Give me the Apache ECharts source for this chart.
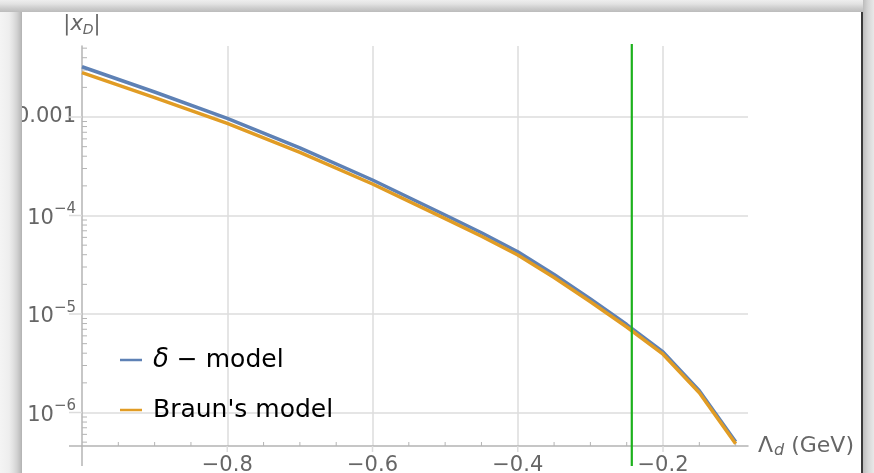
<!DOCTYPE html>
<html><head><meta charset="utf-8">
<script src="https://cdn.jsdelivr.net/npm/echarts@6/dist/echarts.min.js"></script>
<style>
html,body{margin:0;padding:0;background:#fff;overflow:hidden;}
#c{position:absolute;left:0;top:0;width:874px;height:473px;}
.f{position:absolute;pointer-events:none;}
</style></head><body>
<div id="c"></div>
<div class="f" style="left:0;top:0;width:22px;height:473px;background:linear-gradient(to right,#f4f4f4 0px,#eeeeee 9px,#e2e2e2 13px,#d2d2d2 17px,#bababa 21px,#b0b0b0 22px)"></div>
<div class="f" style="left:0;top:0;width:874px;height:12px;background:linear-gradient(to bottom,#eeeeee 0px,#e2e2e2 4px,#cdcdcd 8px,#bcbcbc 12px)"></div>
<div class="f" style="left:861px;top:12px;width:2px;height:461px;background:#3a3a3a"></div>
<div class="f" style="left:863px;top:0;width:11px;height:473px;background:linear-gradient(to right,#bcbcbc 0px,#d6d6d6 5px,#e8e8e8 11px)"></div>
<script>
// ---- data ----
const lambdaValues = [-1.0, -0.9, -0.8, -0.7, -0.6, -0.5, -0.45, -0.4, -0.35, -0.3, -0.25, -0.2, -0.15, -0.1];
const deltaModel   = [3.240e-3, 1.794e-3, 9.70e-4, 4.867e-4, 2.293e-4, 1.012e-4, 6.675e-5, 4.29e-5, 2.518e-5, 1.420e-5, 7.82e-6, 4.114e-6, 1.664e-6, 5.054e-7];
const braunModel   = [2.817e-3, 1.574e-3, 8.63e-4, 4.38e-4, 2.088e-4, 9.30e-5, 6.164e-5, 3.972e-5, 2.348e-5, 1.330e-5, 7.38e-6, 3.908e-6, 1.589e-6, 4.82e-7];
const seriesNames  = ['δ − model', "Braun's model"];
const greenLineX   = [-0.243];
const xTickLabels  = [-0.8, -0.6, -0.4, -0.2];
const yMajorTicks  = [1e-6, 1e-5, 1e-4, 1e-3];
const xMinorTicks  = [-0.95, -0.9, -0.85, -0.75, -0.7, -0.65, -0.55, -0.5, -0.45, -0.35, -0.3, -0.25, -0.15, -0.1];
const yMinorTicks  = [5e-7, 6e-7, 7e-7, 8e-7, 9e-7,
                      2e-6, 3e-6, 4e-6, 5e-6, 6e-6, 7e-6, 8e-6, 9e-6,
                      2e-5, 3e-5, 4e-5, 5e-5, 6e-5, 7e-5, 8e-5, 9e-5,
                      2e-4, 3e-4, 4e-4, 5e-4, 6e-4, 7e-4, 8e-4, 9e-4,
                      2e-3, 3e-3, 4e-3, 5e-3];
const X_MIN = -1.0, X_MAX = -0.083;
const Y_MIN = 4.57e-7, Y_MAX = 5.26e-3;

const FONT = '"DejaVu Sans", Verdana, sans-serif';
const LABEL_COLOR = '#666666';
const GRID_COLOR = '#dcdcdc';
const AXIS_COLOR = '#b4b4b4';

const chart = echarts.init(document.getElementById('c'), null, {renderer: 'canvas'});

function lineShape(x1, y1, x2, y2, color, w) {
  return {type: 'line', shape: {x1, y1, x2, y2}, style: {stroke: color, lineWidth: w}};
}

const option = {
  animation: false,
  backgroundColor: '#ffffff',
  textStyle: {fontFamily: FONT},
  grid: {left: 82, right: 126, top: 46, bottom: 27, containLabel: false, outerBoundsMode: 'none'},
  legend: {
    orient: 'vertical', left: 115, top: 341,
    data: seriesNames,
    icon: 'rect', itemWidth: 22, itemHeight: 2.5, itemGap: 22,
    textStyle: {fontSize: 25, color: '#000', lineHeight: 28, fontFamily: FONT, padding: [0, 0, 0, 6],
      rich: {i: {fontSize: 26, fontStyle: 'italic', color: '#000', fontFamily: FONT}}},
    formatter: function (n) { return n.indexOf('δ') === 0 ? '{i|δ} − model' : n; }
  },
  xAxis: {
    type: 'value', min: X_MIN, max: X_MAX, interval: 0.2,
    name: '{a|Λ}{d|d}{a| (GeV)}', nameLocation: 'end', nameGap: 10,
    nameTextStyle: {rich: {
      a: {fontSize: 22, color: LABEL_COLOR, fontFamily: FONT},
      d: {fontSize: 16, color: LABEL_COLOR, fontStyle: 'italic', fontFamily: FONT, padding: [10, 0, 0, 1]}
    }},
    axisLine: {show: true, lineStyle: {color: AXIS_COLOR, width: 1.5}},
    axisTick: {show: false},
    axisLabel: {
      margin: 9, fontSize: 21, color: LABEL_COLOR, fontFamily: FONT,
      showMinLabel: false, showMaxLabel: false,
      formatter: function (v) {
        for (const t of xTickLabels) if (Math.abs(v - t) < 1e-6) return t.toFixed(1).replace('-', '−');
        return '';
      }
    },
    splitLine: {show: true, showMinLine: false, showMaxLine: false, lineStyle: {color: GRID_COLOR, width: 1.5}}
  },
  yAxis: {
    type: 'log', logBase: 10, min: Y_MIN, max: Y_MAX,
    name: '|{x|x}{s|D}|', nameLocation: 'end', nameGap: 9,
    nameTextStyle: {fontSize: 21, color: LABEL_COLOR, fontFamily: FONT, align: 'center', rich: {
      x: {fontSize: 21, fontStyle: 'italic', color: LABEL_COLOR, fontFamily: FONT},
      s: {fontSize: 14, fontStyle: 'italic', color: LABEL_COLOR, fontFamily: FONT, padding: [10, 0, 0, 0]}
    }},
    axisLine: {show: true, lineStyle: {color: AXIS_COLOR, width: 1.5}},
    axisTick: {show: false},
    axisLabel: {
      margin: 6, color: LABEL_COLOR, fontFamily: FONT,
      formatter: function (v) {
        for (const t of yMajorTicks) {
          if (Math.abs(Math.log10(v) - Math.log10(t)) < 1e-6) {
            const e = Math.round(Math.log10(t));
            if (e === -3) return '{m|0.001}';
            return '{n|10}{s|−' + (-e) + '}';
          }
        }
        return '';
      },
      rich: {
        m: {fontSize: 21, color: LABEL_COLOR, fontFamily: FONT},
        n: {fontSize: 21, color: LABEL_COLOR, fontFamily: FONT, padding: [6, 0, 0, 0], verticalAlign: 'bottom'},
        s: {fontSize: 15, color: LABEL_COLOR, fontFamily: FONT, verticalAlign: 'top'}
      }
    },
    splitLine: {show: true, showMinLine: false, showMaxLine: false, lineStyle: {color: GRID_COLOR, width: 1.5}}
  },
  series: [
    {
      name: seriesNames[0], type: 'line', showSymbol: false, symbol: 'none', z: 3,
      color: '#5E81B5', lineStyle: {width: 3.5, color: '#5E81B5'},
      data: lambdaValues.map((x, i) => [x, deltaModel[i]])
    },
    {
      name: seriesNames[1], type: 'line', showSymbol: false, symbol: 'none', z: 4,
      color: '#E19C24', lineStyle: {width: 3.5, color: '#E19C24'},
      data: lambdaValues.map((x, i) => [x, braunModel[i]])
    },
    { // y major ticks (outward)
      type: 'custom', z: 2, silent: true, clip: false,
      data: yMajorTicks.map(v => [X_MIN, v]),
      renderItem: function (params, api) {
        const p = api.coord([api.value(0), api.value(1)]);
        return lineShape(p[0] - 13, p[1], p[0], p[1], GRID_COLOR, 1.5);
      }
    },
    { // y minor ticks (inside)
      type: 'custom', z: 2, silent: true, clip: false,
      data: yMinorTicks.filter(v => v > Y_MIN && v < Y_MAX).map(v => [X_MIN, v]),
      renderItem: function (params, api) {
        const p = api.coord([api.value(0), api.value(1)]);
        return lineShape(p[0], p[1], p[0] + 5, p[1], AXIS_COLOR, 1);
      }
    },
    { // x major ticks (outward)
      type: 'custom', z: 2, silent: true, clip: false,
      data: xTickLabels.map(v => [v, Y_MIN]),
      renderItem: function (params, api) {
        const p = api.coord([api.value(0), api.value(1)]);
        return lineShape(p[0], p[1], p[0], p[1] + 6, GRID_COLOR, 1.5);
      }
    },
    { // x minor ticks (inside)
      type: 'custom', z: 2, silent: true, clip: false,
      data: xMinorTicks.map(v => [v, Y_MIN]),
      renderItem: function (params, api) {
        const p = api.coord([api.value(0), api.value(1)]);
        return lineShape(p[0], p[1], p[0], p[1] - 4, AXIS_COLOR, 1);
      }
    },
    { // axis extensions past the crossing point
      type: 'custom', z: 2, silent: true, clip: false,
      data: [[X_MIN, Y_MIN]],
      renderItem: function (params, api) {
        const p = api.coord([api.value(0), api.value(1)]);
        return {type: 'group', children: [
          lineShape(p[0], p[1], p[0], p[1] + 20, AXIS_COLOR, 1.5),
          lineShape(p[0] - 13, p[1], p[0], p[1], AXIS_COLOR, 1.5)
        ]};
      }
    },
    { // green vertical line
      type: 'custom', z: 6, silent: true, clip: false,
      data: greenLineX.map(v => [v, Y_MIN]),
      renderItem: function (params, api) {
        const pb = api.coord([api.value(0), Y_MIN]);
        const pt = api.coord([api.value(0), Y_MAX]);
        return lineShape(pb[0], pt[1] - 2, pb[0], pb[1] + 20, '#1DB11D', 2.2);
      }
    }
  ]
};
chart.setOption(option);
</script>
</body></html>
